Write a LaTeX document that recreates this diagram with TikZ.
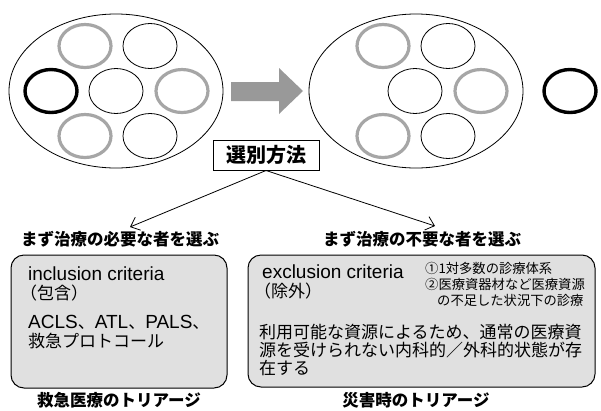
\documentclass[tikz,border=0pt]{standalone}
\usepackage{fontspec}
\setmainfont{Liberation Sans}
\newfontfamily\jp{Noto Sans CJK JP}
\newfontfamily\jpheavy{Noto Sans CJK JP Black}
\usetikzlibrary{shapes.geometric,arrows.meta}
\definecolor{ringGray}{HTML}{A6A6A6}
\definecolor{flowGray}{HTML}{999999}
\definecolor{cardGray}{HTML}{E0E0E0}
\newcommand\jtext{\jp\fontsize{17}{17}\selectfont}
\tikzset{
  crowd/.style={ellipse, draw, line width=0.8pt, minimum width=214, minimum height=154, inner sep=0pt},
  member/.style={ellipse, draw, line width=0.8pt, minimum width=54, minimum height=45, inner sep=0pt},
  urgent/.style={member, line width=3.4pt, minimum width=52, minimum height=43},
  spared/.style={member, draw=ringGray, line width=3.2pt, minimum width=52, minimum height=43},
  pick/.style={-{Straight Barb[length=8pt,width=14pt]}, line width=0.8pt},
  head/.style={font=\jpheavy\fontsize{16.5}{18}\selectfont, inner sep=0pt},
  card/.style={draw, line width=1pt, fill=cardGray, rounded corners=13pt},
  latin/.style={font=\fontsize{19}{20}\selectfont, anchor=base west, inner sep=0pt},
  body/.style={font=\jp\fontsize{17}{18}\selectfont, align=left, anchor=base west, inner sep=0pt},
  note/.style={font=\jp\fontsize{13.3}{16}\selectfont, align=left, anchor=base west, inner sep=0pt},
}

\begin{document}
\begin{tikzpicture}[x=1pt, y=-1pt]
  \useasboundingbox (0,0) rectangle (601,410);

  % before: the whole group of casualties
  \node[crowd] (before) at (116,91) {};
  \node[spared] (b1) at (85,46) {};
  \node[member] (b2) at (150,46) {};
  \node[urgent] (b3) at (51,91) {};
  \node[member] (b4) at (116,91) {};
  \node[spared] (b5) at (182,91) {};
  \node[spared] (b6) at (85,136) {};
  \node[member] (b7) at (150,136) {};

  % block arrow
  \fill[flowGray] (231,82) -- (279,82) -- (279,68) -- (303,91) -- (279,114)
    -- (279,101) -- (231,101) -- cycle;

  % after: one taken out of the group
  \node[crowd] (after) at (416,91) {};
  \node[spared] (a1) at (383,46) {};
  \node[member] (a2) at (448,46) {};
  \node[member] (a4) at (415,91) {};
  \node[spared] (a5) at (481,91) {};
  \node[spared] (a6) at (383,136) {};
  \node[member] (a7) at (448,136) {};
  \node[urgent] (out) at (570,91) {};

  % selection method
  \node[draw, fill=white, line width=1pt, font=\jpheavy\fontsize{20}{22}\selectfont,
        minimum width=106, minimum height=30, inner sep=0pt] (method) at (266,155) {選別方法};
  \coordinate (needEnd) at (130,227);
  \coordinate (spareEnd) at (435,226);
  \draw[pick] (method.south) -- (needEnd);
  \draw[pick] (method.south) -- (spareEnd);

  \node[head] (needHead) at (120,239) {まず治療の必要な者を選ぶ};
  \node[head] (spareHead) at (422,239) {まず治療の不要な者を選ぶ};

  % emergency care card
  \node[card, minimum width=216, minimum height=133] (emCard) at (119,321.5) {};
  \node[latin] (inc) at (28,280) {inclusion criteria};
  \node[latin, font=\jtext] (incJa) at (20,299.5) {（包含）};
  \node[latin] (acls) at (28,328) {ACLS{\jtext 、}ATL{\jtext 、}PALS{\jtext 、}};
  \node[latin, font=\jtext] (proto) at (28,347.5) {救急プロトコール};

  % disaster card
  \node[card, minimum width=347, minimum height=132] (disCard) at (421.5,321) {};
  \node[latin] (exc) at (262,278) {exclusion criteria};
  \node[latin, font=\jtext] (excJa) at (254,297.5) {（除外）};
  \node[note] (notes) at (425,305) {①1対多数の診療体系\\②医療資器材など医療資源\\\hspace{12pt}の不足した状況下の診療};
  \node[body] (main) at (259,374) {利用可能な資源によるため、通常の医療資\\源を受けられない内科的／外科的状態が存\\在する};

  \node[head] (emLabel) at (119,400) {救急医療のトリアージ};
  \node[head] (disLabel) at (416,400) {災害時のトリアージ};
\end{tikzpicture}
\end{document}
